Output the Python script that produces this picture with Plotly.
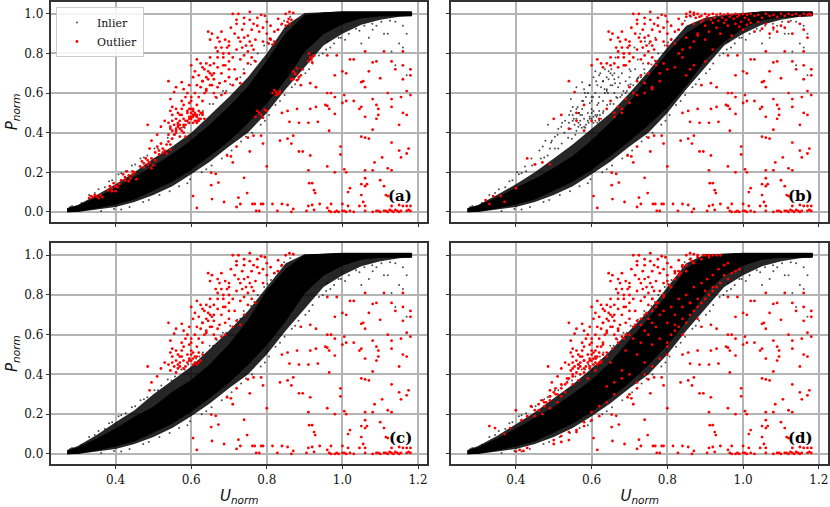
import plotly.graph_objects as go
from plotly.subplots import make_subplots

# solid black band (lower / upper edge)
band_u = [0.272, 0.30, 0.35, 0.40, 0.45, 0.50, 0.55, 0.60, 0.65, 0.70, 0.75, 0.80, 0.85, 0.90, 0.95, 1.00, 1.05, 1.10, 1.15, 1.183]
band_low = [0.0, 0.003, 0.02, 0.04, 0.065, 0.11, 0.155, 0.215, 0.285, 0.36, 0.45, 0.55, 0.67, 0.81, 0.90, 0.95, 0.98, 0.99, 0.992, 0.99]
b_low = [0.0, 0.003, 0.02, 0.04, 0.065, 0.11, 0.155, 0.215, 0.285, 0.36, 0.44, 0.53, 0.64, 0.77, 0.86, 0.93, 0.97, 0.985, 0.99, 0.99]
a_up = [0.015, 0.03, 0.07, 0.12, 0.175, 0.23, 0.29, 0.36, 0.44, 0.53, 0.63, 0.76, 0.90, 0.99, 1.005, 1.01, 1.01, 1.01, 1.01, 1.01]
b_up = [0.015, 0.03, 0.07, 0.12, 0.165, 0.22, 0.28, 0.36, 0.45, 0.55, 0.68, 0.80, 0.90, 0.96, 0.985, 1.0, 1.01, 1.01, 1.01, 1.01]
c_up = [0.015, 0.03, 0.075, 0.125, 0.185, 0.235, 0.31, 0.37, 0.45, 0.55, 0.67, 0.82, 0.93, 1.0, 1.005, 1.01, 1.01, 1.01, 1.01, 1.01]
d_up = [0.015, 0.03, 0.075, 0.125, 0.18, 0.235, 0.30, 0.37, 0.46, 0.57, 0.68, 0.80, 0.93, 1.0, 1.005, 1.01, 1.01, 1.01, 1.01, 1.01]

# outer edge of the dense grey fringe round the band
outer_low = [0.0, 0.0, 0.012, 0.025, 0.05, 0.085, 0.13, 0.19, 0.255, 0.33, 0.40, 0.50, 0.62, 0.73, 0.84, 0.90, 0.945, 0.97, 0.985, 0.99]
a_outer = [0.02, 0.035, 0.085, 0.14, 0.20, 0.27, 0.33, 0.40, 0.49, 0.58, 0.68, 0.80, 0.94, 1.005, 1.008, 1.012, 1.012, 1.012, 1.012, 1.012]
b_outer = [0.02, 0.035, 0.085, 0.14, 0.20, 0.27, 0.34, 0.42, 0.50, 0.60, 0.71, 0.83, 0.94, 0.98, 0.995, 1.005, 1.012, 1.012, 1.012, 1.012]
c_outer = [0.02, 0.04, 0.095, 0.16, 0.22, 0.30, 0.37, 0.44, 0.53, 0.62, 0.72, 0.84, 0.96, 1.005, 1.008, 1.012, 1.012, 1.012, 1.012, 1.012]
d_outer = [0.02, 0.04, 0.09, 0.15, 0.21, 0.28, 0.35, 0.43, 0.52, 0.62, 0.72, 0.84, 0.96, 1.005, 1.008, 1.012, 1.012, 1.012, 1.012, 1.012]

# red points shared by the panels, upper left of the band
upper_u = [0.485, 0.495, 0.49, 0.52, 0.51, 0.53, 0.54, 0.56, 0.555, 0.575, 0.58, 0.545, 0.55, 0.545, 0.55, 0.555, 0.545, 0.56, 0.565, 0.57,
           0.575, 0.58, 0.585, 0.59, 0.595, 0.60, 0.60, 0.60, 0.605, 0.61, 0.615, 0.62, 0.625, 0.63, 0.62, 0.61, 0.63, 0.60, 0.59, 0.575,
           0.58, 0.565, 0.57, 0.56, 0.55, 0.54, 0.615, 0.625, 0.63, 0.64, 0.645, 0.62, 0.63, 0.64, 0.65, 0.655, 0.64, 0.625, 0.66, 0.67,
           0.68, 0.69, 0.675, 0.66, 0.68, 0.69, 0.70, 0.71, 0.72, 0.73, 0.74, 0.70, 0.69, 0.67, 0.66, 0.65, 0.655, 0.645, 0.65, 0.67,
           0.68, 0.69, 0.68, 0.67, 0.695, 0.70, 0.71, 0.72, 0.73, 0.74, 0.75, 0.76, 0.77, 0.745, 0.73, 0.715, 0.705, 0.72, 0.735, 0.75,
           0.76, 0.77, 0.78, 0.79, 0.76, 0.74, 0.755, 0.765, 0.775, 0.785, 0.795, 0.71, 0.725, 0.755, 0.74, 0.80, 0.81, 0.82, 0.83, 0.84,
           0.85, 0.86, 0.87, 0.83, 0.675, 0.685, 0.70, 0.715, 0.635, 0.615, 0.605, 0.595, 0.585, 0.635, 0.65, 0.66, 0.645, 0.67, 0.685, 0.70,
           0.725, 0.735, 0.75, 0.765, 0.775, 0.79, 0.80, 0.755, 0.74, 0.72, 0.70, 0.685, 0.665, 0.655, 0.61, 0.60, 0.63, 0.64, 0.65, 0.665,
           0.59, 0.595, 0.60, 0.605, 0.61, 0.615, 0.62, 0.595, 0.605, 0.615, 0.57, 0.575, 0.58, 0.565, 0.56]
upper_p = [0.44, 0.36, 0.32, 0.43, 0.39, 0.46, 0.66, 0.63, 0.605, 0.655, 0.62, 0.57, 0.53, 0.51, 0.46, 0.44, 0.42, 0.41, 0.45, 0.49,
           0.52, 0.47, 0.44, 0.50, 0.55, 0.58, 0.52, 0.47, 0.45, 0.49, 0.54, 0.51, 0.47, 0.50, 0.58, 0.60, 0.56, 0.56, 0.60, 0.56,
           0.54, 0.50, 0.44, 0.47, 0.49, 0.45, 0.77, 0.75, 0.73, 0.75, 0.71, 0.69, 0.66, 0.68, 0.70, 0.64, 0.62, 0.63, 0.60, 0.63,
           0.59, 0.60, 0.65, 0.67, 0.70, 0.66, 0.68, 0.64, 0.67, 0.65, 0.70, 0.72, 0.74, 0.73, 0.75, 0.78, 0.90, 0.91, 0.87, 0.88,
           0.91, 0.87, 0.83, 0.81, 0.83, 0.80, 0.78, 0.82, 0.77, 0.79, 0.75, 0.78, 0.76, 0.84, 0.86, 0.90, 0.93, 0.95, 0.92, 0.89,
           0.92, 0.87, 0.91, 0.86, 0.84, 0.95, 0.97, 0.95, 0.98, 0.995, 0.99, 1.0, 1.0, 1.01, 0.98, 0.96, 0.94, 0.91, 0.92, 0.95,
           1.0, 1.01, 1.005, 0.975, 0.86, 0.78, 0.76, 0.72, 0.72, 0.64, 0.68, 0.64, 0.58, 0.60, 0.74, 0.70, 0.67, 0.78, 0.80, 0.86,
           0.88, 0.83, 0.81, 0.82, 0.94, 0.93, 0.90, 0.86, 0.88, 0.97, 0.84, 0.74, 0.83, 0.69, 0.71, 0.74, 0.66, 0.61, 0.64, 0.58,
           0.46, 0.48, 0.50, 0.48, 0.46, 0.49, 0.46, 0.47, 0.51, 0.45, 0.46, 0.49, 0.43, 0.43, 0.52]

# red points shared by the panels, lower right of the band
lower_u = [0.605, 0.615, 0.653, 0.665, 0.653, 0.672, 0.655, 0.687, 0.725, 0.72, 0.73, 0.74, 0.748, 0.762, 0.768, 0.772, 0.78, 0.785, 0.79, 0.828,
           0.815, 0.84, 0.855, 0.87, 0.865, 0.705, 0.71, 0.695, 0.72, 0.75, 0.765, 0.755, 0.785, 0.79, 0.80, 0.835, 0.855, 0.865, 0.87, 0.885,
           0.895, 0.915, 0.91, 0.912, 0.92, 0.925, 0.928, 0.91, 0.92, 0.94, 0.905, 0.925, 0.84, 0.855, 0.88, 0.885, 0.86, 0.91, 0.935, 0.915,
           0.93, 0.955, 0.96, 0.965, 0.98, 0.965, 0.995, 0.995, 0.96, 0.98, 1.005, 1.01, 0.97, 0.96, 1.0, 1.015, 1.015, 1.02, 1.045, 1.055,
           1.06, 1.05, 1.05, 1.06, 1.065, 1.06, 1.08, 1.085, 1.06, 1.12, 1.13, 1.10, 1.105, 1.11, 1.115, 1.12, 1.15, 1.155, 1.17, 1.175,
           1.13, 1.05, 1.06, 1.07, 1.08, 1.09, 1.095, 1.095, 1.09, 1.08, 1.06, 1.05, 1.03, 1.045, 1.12, 1.13, 1.13, 1.16, 1.155, 1.17,
           1.18, 1.17, 1.15, 1.18, 0.97, 0.98, 1.0, 1.005, 1.01, 0.96, 0.93, 0.915, 0.89, 1.0, 1.01, 0.98, 1.05, 1.06, 1.055, 1.09,
           1.07, 1.10, 1.14, 1.16, 1.16, 1.18, 1.13, 1.02, 1.03, 1.06, 1.11, 1.16, 0.985, 0.96, 1.08,
           0.965, 0.97, 0.98, 0.985, 0.99, 1.0, 1.005, 1.01, 1.02, 1.03, 1.06, 1.08, 1.09, 1.095, 1.10, 1.11, 1.115, 1.12, 1.125, 1.13,
           1.135, 1.14, 1.145, 1.15, 1.155, 1.16, 1.17, 1.175, 1.18, 1.18, 1.17, 1.13, 1.15]
lower_p = [0.08, 0.02, 0.198, 0.192, 0.135, 0.148, 0.065, 0.05, 0.072, 0.025, 0.04, 0.172, 0.095, 0.04, 0.04, 0.005, 0.005, 0.04, 0.04, 0.005,
           0.04, 0.04, 0.035, 0.015, 0.0, 0.28, 0.25, 0.285, 0.33, 0.375, 0.385, 0.305, 0.385, 0.345, 0.23, 0.36, 0.37, 0.345, 0.385, 0.305,
           0.305, 0.285, 0.21, 0.145, 0.145, 0.11, 0.095, 0.03, 0.035, 0.04, 0.005, 0.01, 0.50, 0.51, 0.52, 0.45, 0.455, 0.45, 0.455, 0.52,
           0.53, 0.54, 0.535, 0.52, 0.495, 0.41, 0.33, 0.29, 0.23, 0.20, 0.215, 0.20, 0.04, 0.02, 0.04, 0.03, 0.10, 0.12, 0.03, 0.05,
           0.03, 0.085, 0.14, 0.17, 0.14, 0.13, 0.21, 0.25, 0.21, 0.22, 0.21, 0.16, 0.275, 0.13, 0.085, 0.08, 0.31, 0.275, 0.295, 0.32,
           0.35, 0.38, 0.375, 0.37, 0.415, 0.47, 0.49, 0.52, 0.54, 0.57, 0.48, 0.53, 0.56, 0.52, 0.60, 0.53, 0.57, 0.50, 0.58, 0.61,
           0.59, 0.49, 0.44, 0.69, 0.60, 0.58, 0.55, 0.59, 0.56, 0.60, 0.63, 0.65, 0.64, 0.71, 0.70, 0.69, 0.655, 0.63, 0.66, 0.76,
           0.71, 0.675, 0.72, 0.74, 0.67, 0.72, 0.76, 0.77, 0.77, 0.81, 0.81, 0.81, 0.79, 0.79, 0.755,
           0.005, 0.0, 0.0, 0.005, 0.0, 0.005, 0.005, 0.0, 0.005, 0.0, 0.005, 0.0, 0.005, 0.005, 0.0, 0.005, 0.005, 0.0, 0.01, 0.005,
           0.0, 0.01, 0.005, 0.0, 0.005, 0.03, 0.005, 0.01, 0.005, 0.03, 0.03, 0.03, 0.035]

# panel (a): square red clumps on the band edges
a_red_u = [0.33, 0.34, 0.35, 0.36, 0.335, 0.345, 0.355, 0.365,
           0.38, 0.39, 0.40, 0.41, 0.385, 0.395, 0.405, 0.39, 0.40,
           0.415, 0.425, 0.435, 0.445, 0.455, 0.42, 0.43, 0.44, 0.45, 0.425, 0.435, 0.445,
           0.465, 0.475, 0.485, 0.495, 0.505, 0.47, 0.48, 0.49, 0.50, 0.475, 0.485, 0.495,
           0.505, 0.515, 0.525, 0.535, 0.545, 0.51, 0.52, 0.53, 0.54, 0.515, 0.525, 0.535, 0.545,
           0.54, 0.55, 0.56, 0.57, 0.58, 0.545, 0.555, 0.565, 0.575, 0.585, 0.55, 0.56, 0.57, 0.58,
           0.585, 0.595, 0.605, 0.615, 0.625, 0.635, 0.59, 0.60, 0.61, 0.62, 0.63, 0.595, 0.605, 0.615,
           0.77, 0.78, 0.79, 0.80, 0.775, 0.785, 0.795, 0.815, 0.825, 0.835, 0.82, 0.83, 0.825, 0.835,
           0.865, 0.875, 0.885, 0.895, 0.87, 0.88, 0.89, 0.87, 0.88, 0.875,
           0.91, 0.915, 0.92, 0.925, 0.912, 0.918, 0.922, 0.805, 0.81, 0.815, 0.82, 0.808, 0.85, 0.855, 0.86, 0.865, 0.858]
a_red_p = [0.07, 0.075, 0.08, 0.085, 0.08, 0.085, 0.07, 0.075,
           0.11, 0.12, 0.105, 0.14, 0.13, 0.145, 0.125, 0.105, 0.13,
           0.16, 0.175, 0.155, 0.19, 0.165, 0.19, 0.205, 0.17, 0.20, 0.16, 0.185, 0.205,
           0.23, 0.225, 0.24, 0.22, 0.26, 0.255, 0.27, 0.25, 0.235, 0.245, 0.26, 0.27,
           0.30, 0.29, 0.32, 0.295, 0.34, 0.33, 0.345, 0.31, 0.355, 0.31, 0.30, 0.34, 0.315,
           0.39, 0.37, 0.42, 0.38, 0.40, 0.43, 0.39, 0.44, 0.41, 0.38, 0.41, 0.40, 0.42, 0.44,
           0.46, 0.45, 0.49, 0.46, 0.50, 0.47, 0.51, 0.48, 0.50, 0.47, 0.49, 0.52, 0.52, 0.48,
           0.48, 0.50, 0.475, 0.51, 0.51, 0.49, 0.515, 0.60, 0.59, 0.61, 0.615, 0.595, 0.605, 0.60,
           0.67, 0.70, 0.68, 0.72, 0.71, 0.725, 0.69, 0.67, 0.665, 0.695,
           0.76, 0.78, 0.755, 0.79, 0.80, 0.77, 0.785, 0.85, 0.87, 0.845, 0.86, 0.875, 0.94, 0.96, 0.95, 0.97, 0.975]

# panel (b): red points over the upper plateau and inside the band
b_red_u = [0.85, 0.86, 0.87, 0.875, 0.88, 0.885, 0.89, 0.895, 0.90, 0.905, 0.91, 0.915, 0.92, 0.925, 0.93, 0.935, 0.94, 0.945, 0.95, 0.955,
           0.96, 0.965, 0.97, 0.975, 0.98, 0.985, 0.99, 0.995, 1.0, 1.005, 1.01, 1.015, 1.02, 1.03, 1.04, 1.05, 1.06, 1.07, 1.08, 1.09,
           1.10, 1.11, 1.12, 1.13, 1.14, 1.15, 1.16, 1.17, 1.175, 1.18, 0.87, 0.89, 0.90, 0.92, 0.93, 0.95, 0.96, 0.98, 0.99, 1.01,
           1.02, 1.04, 1.06, 1.08, 1.10, 1.12, 1.15, 0.88, 0.91, 0.94, 0.97, 1.0, 1.03, 1.05, 1.07, 1.09, 1.11, 1.13, 1.16, 1.17,
           0.80, 0.81, 0.82, 0.83, 0.84, 0.85, 0.86, 0.87, 0.88, 0.90, 0.79, 0.78, 0.77, 0.76, 0.75, 0.74, 0.73, 0.72, 0.71, 0.70,
           0.69, 0.68, 0.67, 0.66, 0.65, 0.64, 0.62, 0.60, 0.58, 0.56, 0.54, 0.52, 0.50, 0.49, 0.47, 0.45, 0.43, 0.36, 0.37, 0.34,
           0.84, 0.82, 0.80, 0.78, 0.76, 0.74, 0.72, 0.70, 0.68, 0.66, 0.32, 0.33, 0.40, 0.56, 0.58, 0.92, 0.90, 0.87, 0.86, 0.85]
b_red_p = [0.985, 0.99, 0.995, 0.98, 1.0, 0.985, 0.99, 0.97, 1.0, 0.985, 0.995, 0.97, 1.0, 0.98, 0.995, 0.965, 1.0, 0.98, 0.995, 0.97,
           1.0, 0.985, 0.995, 0.975, 1.0, 0.985, 0.995, 0.96, 1.0, 0.98, 0.995, 0.97, 1.0, 0.99, 0.995, 0.98, 1.0, 0.99, 0.995, 0.985,
           1.0, 0.99, 1.0, 0.995, 1.0, 0.99, 1.0, 0.995, 1.0, 0.995, 0.95, 0.96, 0.94, 0.955, 0.93, 0.955, 0.94, 0.95, 0.935, 0.945,
           0.955, 0.96, 0.95, 0.93, 0.94, 0.96, 0.95, 0.90, 0.91, 0.90, 0.89, 0.92, 0.91, 0.925, 0.90, 0.91, 0.93, 0.90, 0.92, 0.88,
           0.84, 0.87, 0.85, 0.80, 0.82, 0.88, 0.83, 0.86, 0.89, 0.87, 0.75, 0.70, 0.74, 0.63, 0.70, 0.65, 0.69, 0.66, 0.60, 0.63,
           0.57, 0.52, 0.53, 0.50, 0.56, 0.52, 0.47, 0.46, 0.41, 0.46, 0.42, 0.49, 0.47, 0.24, 0.25, 0.24, 0.27, 0.08, 0.05, 0.08,
           0.78, 0.73, 0.72, 0.66, 0.62, 0.60, 0.59, 0.55, 0.50, 0.48, 0.06, 0.04, 0.12, 0.50, 0.54, 0.82, 0.76, 0.74, 0.72, 0.69]

# panel (d): red points along both edges of the band
d_red_u = [0.33, 0.345, 0.37, 0.385, 0.40, 0.415, 0.43, 0.44, 0.45, 0.46, 0.47, 0.48, 0.49, 0.50, 0.51, 0.52, 0.53, 0.54, 0.55, 0.46,
           0.475, 0.49, 0.505, 0.52, 0.535, 0.55, 0.565, 0.58, 0.595, 0.61, 0.625, 0.64, 0.655, 0.67, 0.685, 0.70, 0.715, 0.73, 0.745, 0.76,
           0.775, 0.79, 0.805, 0.82, 0.835, 0.85, 0.865, 0.88, 0.895, 0.91, 0.76, 0.78, 0.80, 0.82, 0.84, 0.86, 0.88, 0.90, 0.92, 0.94,
           0.75, 0.77, 0.79, 0.81, 0.83, 0.85, 0.87, 0.89, 0.91, 0.93, 0.74, 0.76, 0.78, 0.80, 0.82, 0.84, 0.86, 0.88, 0.90, 0.92,
           0.80, 0.82, 0.84, 0.86, 0.88, 0.90, 0.92, 0.94, 0.96, 0.98, 0.81, 0.83, 0.85, 0.87, 0.89, 0.91, 0.93, 0.95, 0.97, 0.99,
           0.76, 0.78, 0.80, 0.82, 0.84, 0.86, 0.88, 0.74, 0.72, 0.70, 0.68, 0.66, 0.64, 0.62, 0.60, 0.58, 0.56, 0.54, 0.52, 0.50,
           0.475, 0.49, 0.505, 0.52, 0.535, 0.55, 0.565, 0.58, 0.595, 0.61, 0.625, 0.64, 0.45, 0.47, 0.49, 0.51, 0.53, 0.55, 0.57, 0.59,
           0.61, 0.63, 0.65, 0.67, 0.69, 0.71, 0.73, 0.75, 0.77, 0.79, 0.81, 0.83, 0.85, 0.87, 0.89, 0.905, 0.92, 0.935, 0.95, 0.96,
           0.70, 0.72, 0.74, 0.76, 0.78, 0.80, 0.68, 0.66, 0.64, 0.62, 0.60, 0.58, 0.56, 0.54, 0.52, 0.50, 0.43, 0.42, 0.41, 0.40]
d_red_p = [0.14, 0.13, 0.10, 0.13, 0.22, 0.17, 0.19, 0.24, 0.22, 0.25, 0.27, 0.26, 0.29, 0.31, 0.30, 0.33, 0.35, 0.38, 0.40, 0.22,
           0.24, 0.27, 0.30, 0.29, 0.36, 0.39, 0.37, 0.41, 0.43, 0.48, 0.46, 0.51, 0.53, 0.56, 0.58, 0.60, 0.65, 0.68, 0.71, 0.72,
           0.76, 0.80, 0.85, 0.88, 0.91, 0.95, 0.97, 0.99, 1.0, 1.0, 0.78, 0.82, 0.87, 0.92, 0.94, 0.98, 1.0, 1.0, 1.0, 1.0,
           0.68, 0.74, 0.79, 0.84, 0.90, 0.92, 0.96, 0.98, 0.99, 1.0, 0.62, 0.66, 0.70, 0.66, 0.70, 0.74, 0.76, 0.78, 0.82, 0.84,
           0.56, 0.62, 0.68, 0.70, 0.74, 0.78, 0.82, 0.86, 0.88, 0.92, 0.60, 0.64, 0.66, 0.72, 0.76, 0.80, 0.84, 0.90, 0.91, 0.93,
           0.55, 0.58, 0.54, 0.65, 0.60, 0.76, 0.68, 0.46, 0.50, 0.40, 0.42, 0.36, 0.34, 0.24, 0.21, 0.16, 0.12, 0.11, 0.09, 0.07,
           0.26, 0.29, 0.33, 0.35, 0.38, 0.43, 0.45, 0.47, 0.44, 0.42, 0.54, 0.49, 0.19, 0.20, 0.23, 0.26, 0.31, 0.35, 0.40, 0.38,
           0.52, 0.55, 0.46, 0.62, 0.52, 0.58, 0.56, 0.60, 0.64, 0.72, 0.74, 0.78, 0.80, 0.84, 0.86, 0.88, 0.90, 0.93, 0.95, 0.96,
           0.30, 0.36, 0.40, 0.44, 0.48, 0.50, 0.38, 0.30, 0.26, 0.19, 0.17, 0.14, 0.11, 0.07, 0.06, 0.05, 0.03, 0.015, 0.02, 0.012]

# panel (b): sparse black points above the band
b_soft_u = [0.403, 0.424, 0.441, 0.462, 0.478, 0.503, 0.471, 0.493, 0.512, 0.528, 0.553, 0.567, 0.522, 0.541, 0.563, 0.582, 0.604, 0.618, 0.643, 0.594,
            0.612, 0.634, 0.652, 0.671, 0.688, 0.663, 0.684, 0.703, 0.722, 0.741, 0.713, 0.728, 0.752, 0.768, 0.641, 0.662, 0.676, 0.697, 0.724, 0.736, 0.623, 0.578]
b_soft_p = [0.20, 0.23, 0.27, 0.31, 0.36, 0.38, 0.33, 0.35, 0.42, 0.40, 0.47, 0.50, 0.45, 0.49, 0.53, 0.60, 0.58, 0.55, 0.60, 0.64,
            0.66, 0.62, 0.72, 0.68, 0.74, 0.78, 0.80, 0.71, 0.77, 0.86, 0.83, 0.90, 0.85, 0.88, 0.54, 0.65, 0.58, 0.64, 0.68, 0.75, 0.70, 0.56]

# sparse black points just past the fringe, all panels
halo_up_u = [0.33, 0.355, 0.372, 0.391, 0.408, 0.427, 0.443, 0.466, 0.484, 0.503, 0.521, 0.538, 0.557, 0.574, 0.592, 0.613, 0.631, 0.649, 0.668, 0.684,
             0.703, 0.722, 0.739, 0.758, 0.776, 0.793, 0.811, 0.828, 0.846, 0.862,
             0.345, 0.383, 0.415, 0.452, 0.475, 0.512, 0.548, 0.583, 0.622, 0.658, 0.693, 0.73, 0.767, 0.802, 0.838]
halo_up_p = [0.085, 0.115, 0.125, 0.16, 0.19, 0.205, 0.235, 0.27, 0.285, 0.32, 0.345, 0.375, 0.39, 0.425, 0.45, 0.48, 0.51, 0.545, 0.575, 0.61,
             0.645, 0.675, 0.72, 0.745, 0.80, 0.84, 0.875, 0.92, 0.965, 0.985,
             0.095, 0.155, 0.195, 0.24, 0.275, 0.32, 0.37, 0.425, 0.49, 0.545, 0.61, 0.68, 0.765, 0.855, 0.945]
halo_low_u = [0.362, 0.396, 0.437, 0.473, 0.516, 0.543, 0.568, 0.597, 0.628, 0.654, 0.681, 0.707, 0.732, 0.761, 0.784, 0.806, 0.823, 0.847, 0.866, 0.884,
              0.902, 0.921, 0.938, 0.957, 0.978, 0.996, 1.017, 1.036, 1.058, 1.079, 1.103, 1.126,
              0.415, 0.488, 0.59, 0.64, 0.695, 0.745, 0.795, 0.835, 0.875, 0.912, 0.948, 0.968, 1.007, 1.045, 1.09,
              1.12, 1.14, 1.16, 1.17, 1.15, 1.13, 1.08, 1.05, 1.18, 1.17, 1.16, 1.14, 1.11, 1.07, 0.99, 0.96, 0.285, 0.28, 0.31]
halo_low_p = [0.005, 0.015, 0.025, 0.05, 0.085, 0.105, 0.13, 0.165, 0.20, 0.235, 0.27, 0.31, 0.355, 0.40, 0.44, 0.49, 0.54, 0.59, 0.63, 0.67,
              0.70, 0.75, 0.79, 0.82, 0.85, 0.88, 0.90, 0.925, 0.94, 0.95, 0.96, 0.965,
              0.012, 0.06, 0.145, 0.215, 0.29, 0.38, 0.46, 0.56, 0.645, 0.72, 0.80, 0.83, 0.87, 0.915, 0.94,
              0.90, 0.96, 0.94, 0.90, 0.85, 0.81, 0.92, 0.85, 0.72, 0.69, 0.83, 0.74, 0.90, 0.88, 0.88, 0.86, 0.03, 0.025, 0.045]

panel_labels = ["(a)", "(b)", "(c)", "(d)"]
tick_vals_u = [0.4, 0.6, 0.8, 1.0, 1.2]
tick_vals_p = [0.0, 0.2, 0.4, 0.6, 0.8, 1.0]

W, H = 830, 507
SERIF = "DejaVu Serif"
BLACK_SIZE = 2
RED_SIZE = 2.8

fig = make_subplots(rows=2, cols=2)


def add_panel(row, col, low, up, outer, red_u, red_p, soft_u, soft_p, legend=False):
    # fringe and band as filled outlines, then the loose points on top
    fig.add_trace(go.Scatter(x=band_u + band_u[::-1], y=outer_low + outer[::-1], mode="lines", fill="toself",
                             fillcolor="rgba(0,0,0,0.85)", line=dict(width=0), showlegend=False,
                             hoverinfo="skip"), row=row, col=col)
    fig.add_trace(go.Scatter(x=band_u + band_u[::-1], y=low + up[::-1], mode="lines", fill="toself",
                             fillcolor="black", line=dict(color="black", width=1), showlegend=False,
                             hoverinfo="skip"), row=row, col=col)
    fig.add_trace(go.Scatter(x=halo_up_u + halo_low_u + soft_u, y=halo_up_p + halo_low_p + soft_p, mode="markers",
                             name="Inlier", showlegend=legend,
                             marker=dict(color="rgba(0,0,0,0.7)", size=BLACK_SIZE)), row=row, col=col)
    fig.add_trace(go.Scatter(x=red_u, y=red_p, mode="markers", name="Outlier", showlegend=legend,
                             marker=dict(color="#ff0000", size=RED_SIZE)), row=row, col=col)


# panel (b) keeps only the top of the upper cloud red, the rest is black there
b_top = [i for i in range(len(upper_u)) if upper_p[i] > 0.72 or upper_u[i] < 0.56 and upper_p[i] > 0.6]
b_rest = [i for i in range(len(upper_u)) if i not in b_top]

add_panel(1, 1, band_low, a_up, a_outer, upper_u + lower_u + a_red_u, upper_p + lower_p + a_red_p, [], [], legend=True)
add_panel(1, 2, b_low, b_up, b_outer, [upper_u[i] for i in b_top] + lower_u + b_red_u, [upper_p[i] for i in b_top] + lower_p + b_red_p,
          b_soft_u + [upper_u[i] for i in b_rest], b_soft_p + [upper_p[i] for i in b_rest])
add_panel(2, 1, band_low, c_up, c_outer, upper_u + lower_u, upper_p + lower_p, [], [])
add_panel(2, 2, band_low, d_up, d_outer, upper_u + lower_u + d_red_u, upper_p + lower_p + d_red_p, [], [])

axis_style = dict(showline=True, mirror=True, linecolor="#333333", linewidth=1.5, showgrid=True, gridcolor="#b4b4b4",
                  gridwidth=1.6, ticks="outside", ticklen=3.5, tickwidth=1, tickcolor="#333333", zeroline=False,
                  tickfont=dict(family=SERIF, size=12, color="#111111"))

x_domains = [[51 / W, 428 / W], [451.7 / W, 829.3 / W]]
y_domains = [[1 - 220.7 / H, 1.0], [1 - 463.7 / H, 1 - 242.3 / H]]
for row in (1, 2):
    for col in (1, 2):
        fig.update_xaxes(axis_style, range=[0.2291, 1.225], tickvals=tick_vals_u, ticktext=["0.4", "0.6", "0.8", "1.0", "1.2"],
                         showticklabels=row == 2, domain=x_domains[col - 1], row=row, col=col)
        fig.update_yaxes(axis_style, range=[-0.05, 1.06], tickvals=tick_vals_p, ticktext=["0.0", "0.2", "0.4", "0.6", "0.8", "1.0"],
                         showticklabels=col == 1, domain=y_domains[row - 1], row=row, col=col)

title_font = dict(family="DejaVu Sans", size=15, color="#111111")
for col in (1, 2):
    fig.update_xaxes(title=dict(text="<i>U<sub>norm</sub></i>", font=title_font, standoff=2), row=2, col=col)
for row in (1, 2):
    fig.update_yaxes(title=dict(text="<i>P<sub>norm</sub></i>", font=title_font, standoff=3), row=row, col=1)

# panel letters
for i, label in enumerate(panel_labels):
    fig.add_annotation(text="<b>%s</b>" % label, xref="x%d" % (i + 1), yref="y%d" % (i + 1), x=1.19, y=0.08,
                       xanchor="right", yanchor="middle", showarrow=False,
                       font=dict(family=SERIF, size=15, color="black"))

fig.update_layout(width=W, height=H, margin=dict(l=0, r=0, t=0, b=0), paper_bgcolor="white", plot_bgcolor="white",
                  legend=dict(x=56 / W, y=1 - 5 / H, xanchor="left", yanchor="top", bgcolor="rgba(255,255,255,0.85)",
                              bordercolor="#cccccc", borderwidth=1, itemsizing="trace",
                              font=dict(family=SERIF, size=11, color="#111111")))

# the page's default body margin would push the chart off the window
fig.write_html("out.html", config={"displayModeBar": False}, post_script="document.body.style.margin='0';")
